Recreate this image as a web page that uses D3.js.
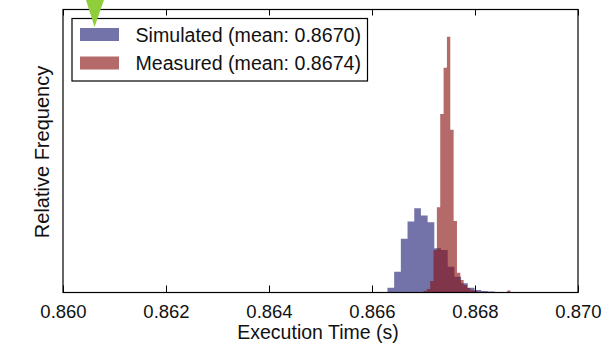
<!DOCTYPE html>
<html><head><meta charset="utf-8">
<script src="https://cdn.jsdelivr.net/npm/d3@7"></script>
<style>body{margin:0;background:#fff;} svg{display:block;}</style>
</head><body>
<svg id="chart" width="602" height="349"></svg>
<script>
// Data (densities of the normalised histograms)
const simulatedBinStarts = [0.86630, 0.86643, 0.86656, 0.86669, 0.86682, 0.86695, 0.86708, 0.86721, 0.86734, 0.86747, 0.86760, 0.86773, 0.86786, 0.86799, 0.86812, 0.86825, 0.86838];
const simulatedBinWidth = 0.00013;
const simulatedDensity = [68, 295, 758, 1003, 1192, 1087, 994, 626, 602, 365, 224, 130, 68, 35, 21, 14, 7];

const measuredBinStarts = [0.867000, 0.867065, 0.867130, 0.867195, 0.867260, 0.867325, 0.867390, 0.867455, 0.867520, 0.867585, 0.867650, 0.867715, 0.867780, 0.867845, 0.867910, 0.867975, 0.868625];
const measuredBinWidth = 0.000065;
const measuredDensity = [21, 50, 163, 602, 1206, 2523, 3175, 3614, 2301, 1012, 280, 177, 106, 64, 35, 21, 28];

const xTicks = [0.860, 0.862, 0.864, 0.866, 0.868, 0.870];
const legendLabels = ["Simulated (mean: 0.8670)", "Measured (mean: 0.8674)"];
const seriesColors = ["#000064", "#880f0f"];
const seriesOpacity = [0.55, 0.62];

const svg = d3.select("#chart");
const L = 63, R = 578, T = 9.5, B = 292.5;
const font = "Liberation Sans, Arial, Helvetica, sans-serif";

const x = d3.scaleLinear().domain([0.860, 0.870]).range([L, R]);
const y = d3.scaleLinear().domain([0, 4000]).range([B, T]);

function histPath(starts, width, vals) {
  const p = d3.path();
  starts.forEach((s, i) => {
    const x0 = x(s), x1 = x(s + width), y1 = y(vals[i]), y0 = y(0);
    p.moveTo(x0, y0); p.lineTo(x0, y1); p.lineTo(x1, y1); p.lineTo(x1, y0); p.closePath();
  });
  return p.toString();
}

svg.append("path").attr("d", histPath(simulatedBinStarts, simulatedBinWidth, simulatedDensity))
  .attr("fill", seriesColors[0]).attr("fill-opacity", seriesOpacity[0]);
svg.append("path").attr("d", histPath(measuredBinStarts, measuredBinWidth, measuredDensity))
  .attr("fill", seriesColors[1]).attr("fill-opacity", seriesOpacity[1]);

// frame
svg.append("rect").attr("x", L).attr("y", T).attr("width", R - L).attr("height", B - T)
  .attr("fill", "none").attr("stroke", "#000").attr("stroke-width", 1.2);

// bottom axis ticks (inward) + labels
const xAxis = d3.axisBottom(x).tickValues(xTicks).tickFormat(d3.format(".3f")).tickSizeInner(-7).tickSizeOuter(0).tickPadding(12.5);
const gx = svg.append("g").attr("transform", `translate(0,${B})`).call(xAxis);
gx.select(".domain").remove();
gx.selectAll("text").attr("font-family", font).attr("font-size", 18.5).attr("fill", "#111");
gx.selectAll("line").attr("stroke", "#000");

const xTop = d3.axisTop(x).tickValues(xTicks).tickFormat("").tickSizeInner(-6).tickSizeOuter(0);
const gt = svg.append("g").attr("transform", `translate(0,${T})`).call(xTop);
gt.select(".domain").remove();
gt.selectAll("line").attr("stroke", "#000");

// axis labels
svg.append("text").attr("x", 318).attr("y", 339).attr("text-anchor", "middle")
  .attr("font-family", font).attr("font-size", 19.5).attr("fill", "#111").text("Execution Time (s)");
svg.append("text").attr("transform", `translate(49,${(T + B) / 2 + 1}) rotate(-90)`).attr("text-anchor", "middle")
  .attr("font-family", font).attr("font-size", 20).attr("fill", "#111").text("Relative Frequency");

// legend
const lg = svg.append("g");
lg.append("rect").attr("x", 72).attr("y", 18.5).attr("width", 295.5).attr("height", 62.5)
  .attr("fill", "#fff").attr("stroke", "#000").attr("stroke-width", 1.2);
legendLabels.forEach((lab, i) => {
  const yy = 28 + i * 28.5;
  lg.append("rect").attr("x", 80).attr("y", yy).attr("width", 39).attr("height", 13)
    .attr("fill", seriesColors[i]).attr("fill-opacity", seriesOpacity[i]);
  lg.append("text").attr("x", 135.5).attr("y", yy + 13.5).attr("font-family", font).attr("font-size", 19.6)
    .attr("fill", "#111").text(lab);
});

// green marker triangle
svg.append("path").attr("d", d3.line()([[86, 0], [104, 0], [94.5, 27]]) + "Z").attr("fill", "#8fce3a");
</script>
</body></html>
